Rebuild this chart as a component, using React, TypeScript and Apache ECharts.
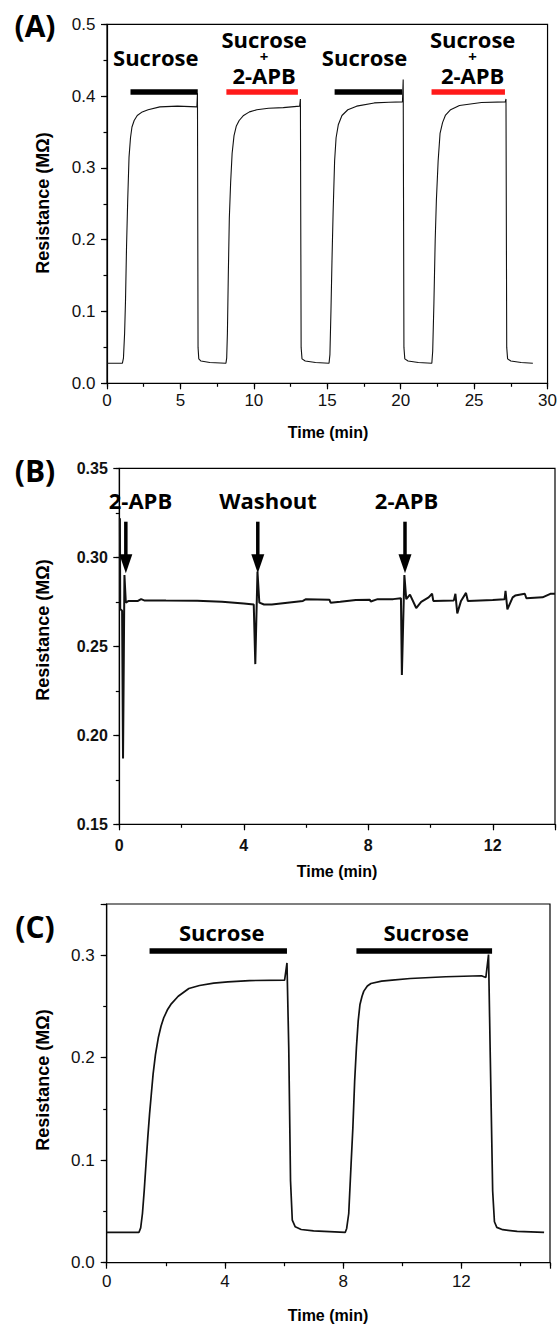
import React, { useEffect, useRef } from "react";
import * as echarts from "echarts";

// ---------- Panel A: four sucrose pulses (time in min, resistance in MΩ) ----------
const traceA: [number, number][] = [
  [0, 0.028], [0.5, 0.028], [1.05, 0.028], [1.12, 0.035], [1.2, 0.07], [1.26, 0.115], [1.33, 0.19],
  [1.41, 0.255], [1.5, 0.315], [1.6, 0.342], [1.7, 0.357], [1.85, 0.366], [2.06, 0.373], [2.4, 0.378],
  [2.8, 0.381], [3.6, 0.385], [4.8, 0.386], [6.12, 0.385], [6.16, 0.404], [6.2, 0.05], [6.25, 0.034],
  [6.4, 0.031], [7.0, 0.029], [8.1, 0.028],
  [8.15, 0.035], [8.2, 0.07], [8.26, 0.15], [8.33, 0.23], [8.42, 0.28], [8.52, 0.32], [8.65, 0.345],
  [8.8, 0.358], [9.0, 0.366], [9.3, 0.373], [9.7, 0.378], [10.2, 0.381], [11.0, 0.383], [12.0, 0.384],
  [13.12, 0.386], [13.17, 0.396], [13.22, 0.05], [13.28, 0.034], [13.5, 0.031], [14.2, 0.029], [15.12, 0.028],
  [15.18, 0.04], [15.25, 0.1], [15.32, 0.17], [15.4, 0.24], [15.5, 0.31], [15.6, 0.342], [15.75, 0.36],
  [16.0, 0.373], [16.4, 0.381], [17.0, 0.386], [18.2, 0.3905], [19.2, 0.3915], [20.12, 0.392], [20.17, 0.423],
  [20.22, 0.05], [20.28, 0.034], [20.5, 0.031], [21.2, 0.029], [22.12, 0.028],
  [22.18, 0.045], [22.26, 0.11], [22.35, 0.2], [22.43, 0.255], [22.55, 0.31], [22.68, 0.348], [22.85, 0.363],
  [23.04, 0.373], [23.4, 0.381], [24.0, 0.387], [25.5, 0.391], [27.12, 0.392], [27.17, 0.396], [27.22, 0.05],
  [27.28, 0.034], [27.5, 0.031], [28.2, 0.029], [29.0, 0.028],
];
const barsA = [
  { from: 1.6, to: 6.18, level: 0.406, treatment: "sucrose" },
  { from: 8.13, to: 13.0, level: 0.406, treatment: "sucrose+2apb" },
  { from: 15.5, to: 20.1, level: 0.406, treatment: "sucrose" },
  { from: 22.1, to: 27.1, level: 0.406, treatment: "sucrose+2apb" },
];
const labelsA = [
  { text: "Sucrose", x: 3.32, y: 0.455 },
  { text: "Sucrose", x: 10.7, y: 0.479 },
  { text: "+", x: 10.7, y: 0.4556 },
  { text: "2-APB", x: 10.7, y: 0.429 },
  { text: "Sucrose", x: 17.54, y: 0.455 },
  { text: "Sucrose", x: 24.9, y: 0.479 },
  { text: "+", x: 24.9, y: 0.4556 },
  { text: "2-APB", x: 24.9, y: 0.429 },
];

// ---------- Panel B: 2-APB / washout trace ----------
const traceB: [number, number][] = [
  [0.02, 0.322], [0.03, 0.271], [0.09, 0.27], [0.12, 0.187], [0.165, 0.29], [0.21, 0.2745], [0.3, 0.2755],
  [0.6, 0.2755], [0.7, 0.2765], [0.8, 0.2758], [1.5, 0.2757], [2.5, 0.2756], [3.3, 0.275], [4.0, 0.274],
  [4.32, 0.2735], [4.37, 0.24], [4.44, 0.292], [4.5, 0.2745], [4.65, 0.2735], [4.9, 0.2735], [5.4, 0.2745],
  [5.9, 0.2755], [6.0, 0.2765], [6.75, 0.2762], [6.79, 0.2745], [7.1, 0.275], [7.6, 0.276], [8.05, 0.2762],
  [8.08, 0.2752], [8.3, 0.2765], [8.8, 0.2765], [9.05, 0.277], [9.08, 0.2339], [9.16, 0.29], [9.22, 0.2765],
  [9.34, 0.279], [9.54, 0.2715], [9.7, 0.275], [9.94, 0.2775], [10.05, 0.2795], [10.09, 0.2755], [10.75, 0.2758],
  [10.8, 0.2795], [10.86, 0.2685], [10.98, 0.2755], [11.14, 0.28], [11.2, 0.2755], [12.0, 0.276], [12.38, 0.2765],
  [12.41, 0.2812], [12.47, 0.2708], [12.64, 0.2775], [12.72, 0.2785], [13.03, 0.2795], [13.08, 0.277],
  [13.6, 0.2775], [13.85, 0.2795], [14.0, 0.2795],
];
const arrowsB = [
  { text: "2-APB", x: 0.21, textX: 0.68, top: 0.32, tip: 0.291, textY: 0.332 },
  { text: "Washout", x: 4.45, textX: 4.78, top: 0.32, tip: 0.291, textY: 0.332 },
  { text: "2-APB", x: 9.18, textX: 9.23, top: 0.32, tip: 0.291, textY: 0.332 },
];

// ---------- Panel C: two sucrose pulses ----------
const traceC: [number, number][] = [
  [0, 0.0295], [1.09, 0.0295], [1.15, 0.034], [1.21, 0.048], [1.27, 0.0706], [1.33, 0.0965], [1.39, 0.122],
  [1.45, 0.145], [1.51, 0.1646], [1.57, 0.184], [1.65, 0.203], [1.75, 0.22], [1.84, 0.231], [1.93, 0.239],
  [2.05, 0.2465], [2.17, 0.252], [2.42, 0.26], [2.78, 0.2676], [3.14, 0.2705], [3.62, 0.2728], [4.1, 0.274],
  [4.83, 0.2753], [6.02, 0.2757], [6.1, 0.2925], [6.16, 0.21], [6.22, 0.08], [6.28, 0.0415], [6.38, 0.035],
  [6.58, 0.0324], [7.0, 0.031], [8.07, 0.0295],
  [8.12, 0.0334], [8.19, 0.048], [8.27, 0.0965], [8.33, 0.132], [8.39, 0.177], [8.45, 0.21], [8.51, 0.236],
  [8.57, 0.252], [8.64, 0.26], [8.7, 0.265], [8.82, 0.27], [8.94, 0.2724], [9.3, 0.2747], [9.66, 0.2757],
  [10.27, 0.2773], [11.47, 0.279], [12.68, 0.28], [12.83, 0.2783], [12.92, 0.3006], [12.98, 0.2], [13.06, 0.07],
  [13.12, 0.04], [13.2, 0.0345], [13.4, 0.0322], [13.89, 0.0305], [14.8, 0.0295],
];
const barsC = [
  { from: 1.45, to: 6.1, level: 0.304, treatment: "sucrose" },
  { from: 8.45, to: 13.04, level: 0.304, treatment: "sucrose" },
];
const labelsC = [
  { text: "Sucrose", x: 3.89, y: 0.323 },
  { text: "Sucrose", x: 10.81, y: 0.323 },
];

const TICK_FONT = '"Liberation Sans", Arial, sans-serif';
const ANN_FONT = '"Open Sans", sans-serif';

const grids = [
  { left: 107, top: 24.3, width: 443, height: 359 },
  { left: 119.3, top: 468.3, width: 435.7, height: 356 },
  { left: 106.7, top: 904, width: 443.3, height: 358.7 },
];

const isMult = (v: number, step: number) => Math.abs(v / step - Math.round(v / step)) < 1e-6;

function axisPair(
  dim: "x" | "y",
  gridIndex: number,
  min: number,
  max: number,
  interval: number,
  fmt: (v: number) => string,
  bold: boolean,
  fontSize: number,
  margin: number
) {
  const position = dim === "x" ? "bottom" : "left";
  return [
    {
      type: "value",
      gridIndex,
      min,
      max,
      interval,
      position,
      axisLine: { show: true, onZero: false, lineStyle: { color: "#000", width: 1.2 } },
      axisTick: { show: true, inside: false, length: 6, lineStyle: { color: "#000", width: 1.2 } },
      minorTick: { show: false },
      splitLine: { show: false },
      axisLabel: {
        show: true,
        margin,
        formatter: (v: number) => fmt(v),
        color: "#111",
        fontFamily: TICK_FONT,
        fontSize,
        fontWeight: bold ? "bold" : "normal",
        showMinLabel: true,
        showMaxLabel: true,
      },
    },
    {
      type: "value",
      gridIndex,
      min,
      max,
      interval: interval / 2,
      position,
      axisLine: { show: false, onZero: false },
      axisTick: { show: true, inside: false, length: 3.5, lineStyle: { color: "#000", width: 1.2 } },
      minorTick: { show: false },
      splitLine: { show: false },
      axisLabel: { show: false },
    },
  ];
}

const colorOf = (t: string) => (t === "sucrose" ? "#000000" : "#ff1a1a");

function barsMarkLine(bars: { from: number; to: number; level: number; treatment: string }[]) {
  return {
    silent: true,
    symbol: ["none", "none"],
    label: { show: false },
    lineStyle: { type: "solid", width: 5.5, color: "#000" },
    emphasis: { disabled: true },
    data: bars.map((b) => [
      { coord: [b.from, b.level], lineStyle: { color: colorOf(b.treatment), width: 5.5, type: "solid" } },
      { coord: [b.to, b.level] },
    ]),
  };
}

function lineSeries(data: [number, number][], axisIndex: number, width: number, markLine?: any) {
  return {
    type: "line",
    data,
    xAxisIndex: axisIndex,
    yAxisIndex: axisIndex,
    showSymbol: false,
    symbol: "none",
    silent: true,
    emphasis: { disabled: true },
    lineStyle: { color: "#111", width },
    markLine,
  };
}

export default function App() {
  const ref = useRef<HTMLDivElement>(null);
  useEffect(() => {
    if (!ref.current) return;
    const chart = echarts.init(ref.current, null, { renderer: "svg" });
    const fmt1 = (v: number) => (isMult(v, 0.1) ? v.toFixed(1) : "");
    const fmt2 = (v: number) => v.toFixed(2);
    const fmtInt = (step: number) => (v: number) => (isMult(v, step) ? String(Math.round(v)) : "");

    const xAxis = [
      ...axisPair("x", 0, 0, 30, 5, fmtInt(5), false, 17, 9),
      ...axisPair("x", 1, 0, 14, 4, fmtInt(4), true, 16, 13),
      ...axisPair("x", 2, 0, 15, 4, fmtInt(4), false, 17, 10),
    ];
    const yAxis = [
      ...axisPair("y", 0, 0, 0.5, 0.1, fmt1, false, 17, 11.5),
      ...axisPair("y", 1, 0.15, 0.35, 0.05, fmt2, true, 16, 11.5),
      ...axisPair("y", 2, 0, 0.35, 0.1, fmt1, false, 17, 12),
    ];

    chart.setOption({
      animation: false,
      backgroundColor: "#ffffff",
      grid: grids.map((g) => ({
        ...g,
        show: true,
        borderColor: "#000",
        borderWidth: 1.2,
        backgroundColor: "transparent",
        containLabel: false,
      })),
      xAxis,
      yAxis,
      series: [
        lineSeries(traceA, 0, 1.1, barsMarkLine(barsA)),
        lineSeries(traceB, 2, 2),
        lineSeries(traceC, 4, 1.7, barsMarkLine(barsC)),
      ],
    });

    const px = (si: number, x: number, y: number) =>
      chart.convertToPixel({ seriesIndex: si }, [x, y]) as number[];

    const text = (x: number, y: number, t: string, font: string, rotation = 0) => ({
      type: "text",
      x,
      y,
      rotation,
      silent: true,
      z: 100,
      style: {
        text: t,
        font,
        fill: "#000",
        align: "center",
        verticalAlign: "middle",
        textAlign: "center",
        textVerticalAlign: "middle",
      },
    });

    const gfx: any[] = [];
    const annFont = (size: number) => `bold ${size}px ${ANN_FONT}`;
    labelsA.forEach((l) => {
      const [x, y] = px(0, l.x, l.y);
      gfx.push(text(x, y, l.text, annFont(l.text === "+" ? 15 : 22)));
    });
    labelsC.forEach((l) => {
      const [x, y] = px(2, l.x, l.y);
      gfx.push(text(x, y, l.text, annFont(22)));
    });
    arrowsB.forEach((a) => {
      const [tx, ty] = px(1, a.textX, a.textY);
      gfx.push(text(tx, ty, a.text, annFont(22)));
      const [ax, ay0] = px(1, a.x, a.top);
      const [, ay1] = px(1, a.x, a.tip);
      const headH = 19;
      const headW = 13;
      gfx.push({
        type: "line",
        silent: true,
        z: 100,
        shape: { x1: ax, y1: ay0, x2: ax, y2: ay1 - headH + 2 },
        style: { stroke: "#000", lineWidth: 3.5 },
      });
      gfx.push({
        type: "polygon",
        silent: true,
        z: 100,
        shape: {
          points: [
            [ax - headW / 2, ay1 - headH],
            [ax + headW / 2, ay1 - headH],
            [ax, ay1],
          ],
        },
        style: { fill: "#000" },
      });
    });

    // panel letters
    const letterFont = `bold 30px ${ANN_FONT}`;
    gfx.push(text(35, 25, "(A)", letterFont));
    gfx.push(text(35, 470, "(B)", letterFont));
    gfx.push(text(35, 926, "(C)", letterFont));

    // axis titles
    const yTitleFont = `bold 18px ${TICK_FONT}`;
    const xTitleFont = `bold 16px ${TICK_FONT}`;
    const yCenters = [203, 630, 1080];
    grids.forEach((g, i) => {
      gfx.push(text(43, yCenters[i], "Resistance (MΩ)", yTitleFont, Math.PI / 2));
    });
    gfx.push(text(328, 432, "Time (min)", xTitleFont));
    gfx.push(text(337, 871, "Time (min)", xTitleFont));
    gfx.push(text(328, 1315, "Time (min)", xTitleFont));

    chart.setOption({ graphic: gfx });

    return () => chart.dispose();
  }, []);

  return (
    <div
      ref={ref}
      style={{ position: "absolute", left: 0, top: 0, width: 560, height: 1325, background: "#fff" }}
    />
  );
}
